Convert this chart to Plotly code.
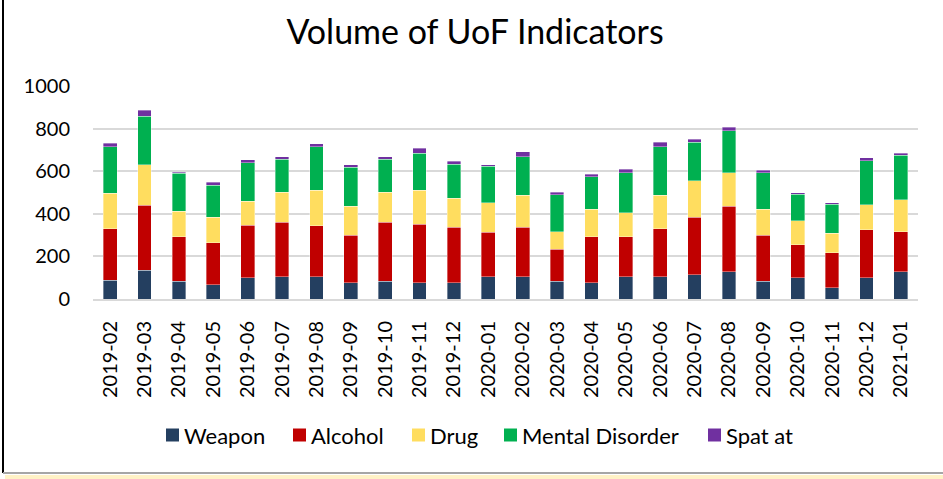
import plotly.graph_objects as go

months = ["2019-02", "2019-03", "2019-04", "2019-05", "2019-06", "2019-07", "2019-08",
          "2019-09", "2019-10", "2019-11", "2019-12", "2020-01", "2020-02", "2020-03",
          "2020-04", "2020-05", "2020-06", "2020-07", "2020-08", "2020-09", "2020-10",
          "2020-11", "2020-12", "2021-01"]

weapon = [89, 136, 83, 67, 99, 105, 105, 77, 83, 77, 77, 105, 105, 83, 77, 105, 105, 113, 128, 83, 99, 53, 99, 128]
alcohol = [240, 305, 210, 196, 247, 255, 239, 223, 277, 275, 261, 208, 233, 150, 216, 188, 225, 270, 307, 217, 156, 165, 225, 187]
drug = [167, 190, 120, 122, 113, 142, 166, 135, 142, 158, 136, 138, 150, 83, 128, 112, 158, 173, 158, 121, 113, 90, 119, 151]
mental = [219, 227, 177, 150, 181, 154, 205, 183, 154, 175, 158, 173, 180, 174, 152, 188, 227, 181, 197, 172, 123, 136, 205, 210]
spat = [16, 29, 6, 14, 14, 12, 14, 13, 12, 22, 14, 7, 24, 12, 12, 16, 21, 13, 16, 11, 7, 8, 14, 9]

series_names = ["Weapon", "Alcohol", "Drug", "Mental Disorder", "Spat at"]
series_values = [weapon, alcohol, drug, mental, spat]
series_colors = ["#243F60", "#C00000", "#FFDD5F", "#00B050", "#7030A0"]

FONT = "Lato"
W, H = 943, 479
ml, mr, mt, mb = 93, 25, 86, 180
pw, ph = W - ml - mr, H - mt - mb


def px_x(x):
    return (x - ml) / pw


def px_y(y):
    return (H - mb - y) / ph


fig = go.Figure()
for name, vals, color in zip(series_names, series_values, series_colors):
    fig.add_trace(go.Bar(
        x=months, y=vals, name=name, showlegend=False,
        marker=dict(color=color, line=dict(color="rgba(255,255,255,0.6)", width=0.6)),
    ))

# manual legend (square + label), placed like the reference
legend_square_x = [166, 293, 412, 504, 708]
legend_y = 435
shapes = []
annotations = []
for name, color, sx in zip(series_names, series_colors, legend_square_x):
    shapes.append(dict(type="rect", xref="paper", yref="paper",
                       x0=px_x(sx), x1=px_x(sx + 13), y0=px_y(legend_y - 6.5), y1=px_y(legend_y + 6.5),
                       line=dict(width=0), fillcolor=color))
    annotations.append(dict(text=name, xref="paper", yref="paper",
                            x=px_x(sx + 16), y=px_y(legend_y), xanchor="left", yanchor="middle",
                            showarrow=False, font=dict(family=FONT, size=22, color="#000000")))

# frame decorations
shapes += [
    dict(type="line", xref="paper", yref="paper",
         x0=px_x(3), x1=px_x(3), y0=px_y(0), y1=px_y(473),
         line=dict(color="#000000", width=2)),
    dict(type="line", xref="paper", yref="paper",
         x0=px_x(3), x1=px_x(943), y0=px_y(473), y1=px_y(473),
         line=dict(color="#A6A6A6", width=2)),
    dict(type="rect", xref="paper", yref="paper",
         x0=px_x(5), x1=px_x(943), y0=px_y(475), y1=px_y(479),
         line=dict(width=0), fillcolor="#FFF2C6"),
]

fig.update_layout(
    width=W, height=H,
    barmode="stack",
    bargap=0.6,
    plot_bgcolor="white",
    paper_bgcolor="white",
    margin=dict(l=ml, r=mr, t=mt, b=mb),
    font=dict(family=FONT, color="#000000"),
    showlegend=False,
    hovermode=False,
    title=dict(text="Volume of UoF Indicators", x=475 / W, xanchor="center",
               y=1 - 32 / H, yanchor="middle",
               font=dict(family=FONT, size=34, color="#000000")),
    xaxis=dict(
        type="category", tickangle=-90,
        tickfont=dict(family=FONT, size=20, color="#000000"),
        showgrid=False, showline=True, linecolor="#D9D9D9", linewidth=2,
        ticks="", ticklabelstandoff=12,
    ),
    yaxis=dict(
        range=[0, 1000], dtick=200,
        tickfont=dict(family=FONT, size=20, color="#000000"),
        showgrid=True, gridcolor="#D9D9D9", gridwidth=2,
        zeroline=False, showline=False, ticks="", ticklabelstandoff=22,
    ),
    shapes=shapes,
    annotations=annotations,
)

fig.write_html("out.html", config={"displayModeBar": False},
               post_script="document.body.style.margin='0';document.body.style.overflow='hidden';")
